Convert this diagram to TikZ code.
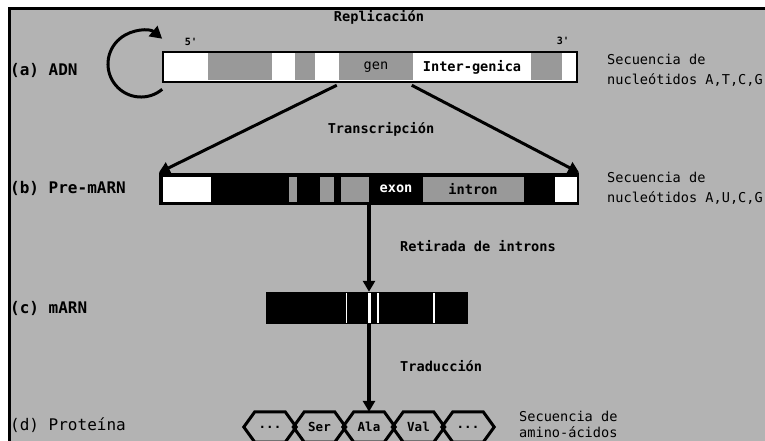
\documentclass[tikz,border=0pt]{standalone}
\usepackage{fontspec}
\setmonofont{DejaVu Sans Mono}
\usetikzlibrary{arrows.meta,calc}
\definecolor{fondo}{RGB}{179,179,179}
\definecolor{gris}{RGB}{153,153,153}

\begin{document}
\begin{tikzpicture}[x=1pt,y=1pt,yscale=-1,
  txt/.style={font=\ttfamily\fontsize{13.6}{20}\selectfont, inner sep=0pt},
  btxt/.style={font=\ttfamily\bfseries\fontsize{13.6}{20}\selectfont, inner sep=0pt},
  etiq/.style={font=\ttfamily\bfseries\fontsize{16}{20}\selectfont, inner sep=0pt, anchor=west},
  barra/.style={draw=black, line width=2.5pt, minimum height=30pt, inner sep=0pt},
  hexa/.style={minimum width=52pt, minimum height=30pt, inner sep=0pt,
    font=\ttfamily\bfseries\fontsize{12.5}{14}\selectfont},
  flecha/.style={line width=3.5pt, -{Triangle[width=12pt,length=11pt]}},
  ]
\useasboundingbox (0,0) rectangle (765,441);
\fill[white] (0,0) rectangle (765,441);
\fill[fondo] (9,9) rectangle (765,441);
\draw[line width=3pt] (9,441) -- (9,9) -- (765,9);

% Text Node
\node[btxt] (repl) at (379,17) {Replicación};
%Curve Lines
\draw[line width=3pt, -{Triangle[width=13pt,length=12pt]}] (162.2,89.3) arc[start angle=50, end angle=310, radius=33];

%Shape: Rectangle (ADN)
\node[barra, fill=white, minimum width=414pt] (adn) at (370,67) {};
\fill[gris] (208,53.5) rectangle (272,80.5);
\fill[gris] (295,53.5) rectangle (315,80.5);
\fill[gris] (339,53.5) rectangle (413,80.5);
\fill[gris] (531,53.5) rectangle (562,80.5);
\node[btxt, font=\ttfamily\bfseries\fontsize{10}{12}\selectfont] (cinco) at (191,42) {5'};
\node[btxt, font=\ttfamily\bfseries\fontsize{10}{12}\selectfont] (tres) at (563,41) {3'};
\node[txt] (gen) at (376,67) {gen};
\node[btxt] (inter) at (472,67) {Inter-genica};

%Shape: Rectangle (Pre-mARN)
\node[barra, fill=black, minimum width=418pt] (pre) at (369,189) {};
\fill[white] (163,177) rectangle (211,202);
\fill[gris] (289,177) rectangle (297,202);
\fill[gris] (320,177) rectangle (334,202);
\fill[gris] (341,177) rectangle (369,202);
\fill[gris] (423,177) rectangle (524,202);
\fill[white] (555,177) rectangle (577,202);
\node[btxt, text=white] (exon) at (396,189) {exon};
\node[btxt] (intron) at (473,189) {intron};

%Shape: Rectangle (mARN)
\node[barra, fill=black, minimum width=200pt] (marn) at (367,308) {};
\fill[white] (345.5,293) rectangle (346.5,323);
\fill[white] (368,293) rectangle (371,323);
\fill[white] (377,293) rectangle (379,323);
\fill[white] (433,293) rectangle (435,323);

% Hexagons (Proteina)
\foreach \i/\x/\t in {1/270/{...},2/319.5/Ser,3/369/Ala,4/418.5/Val,5/468/{...}}{
  \node[hexa] (hex\i) at (\x,427) {\t};
  \draw[line width=3pt] (hex\i.west) -- ([xshift=11pt]hex\i.north west) -- ([xshift=-11pt]hex\i.north east)
    -- (hex\i.east) -- ([xshift=-11pt]hex\i.south east) -- ([xshift=11pt]hex\i.south west) -- cycle;
}

%Straight Lines
\draw[flecha, line width=3pt] ($(adn.south west)+(175,2)$) -- (pre.north west);
\draw[flecha, line width=3pt] ($(adn.south west)+(250,2)$) -- (pre.north east);
\draw[flecha] (pre.south) -- (pre.south |- marn.north);
\draw[flecha] (pre.south |- marn.south) -- (hex3.north);

% Text Node
\node[btxt] (transc) at (381,129) {Transcripción};
\node[btxt, anchor=west] (retir) at (400,246) {Retirada de introns};
\node[btxt, anchor=west] (trad) at (400,366) {Traducción};

% Text Node
\node[etiq] (la) at (10,70) {(a) ADN};
\node[etiq] (lb) at (10,188) {(b) Pre-mARN};
\node[etiq] (lc) at (10,308) {(c) mARN};
\node[etiq, font=\ttfamily\fontsize{16}{20}\selectfont] (ld) at (10,425) {(d) Proteína};

% Text Node
\node[txt, anchor=north west, align=left] (seqa) at (607,54) {Secuencia de\\nucleótidos A,T,C,G};
\node[txt, anchor=north west, align=left] (seqb) at (607,172) {Secuencia de\\nucleótidos A,U,C,G};
\node[txt, anchor=north west, align=left, font=\ttfamily\fontsize{13.6}{16}\selectfont] (seqd) at (519,411) {Secuencia de\\amino-ácidos};

\end{tikzpicture}
\end{document}
